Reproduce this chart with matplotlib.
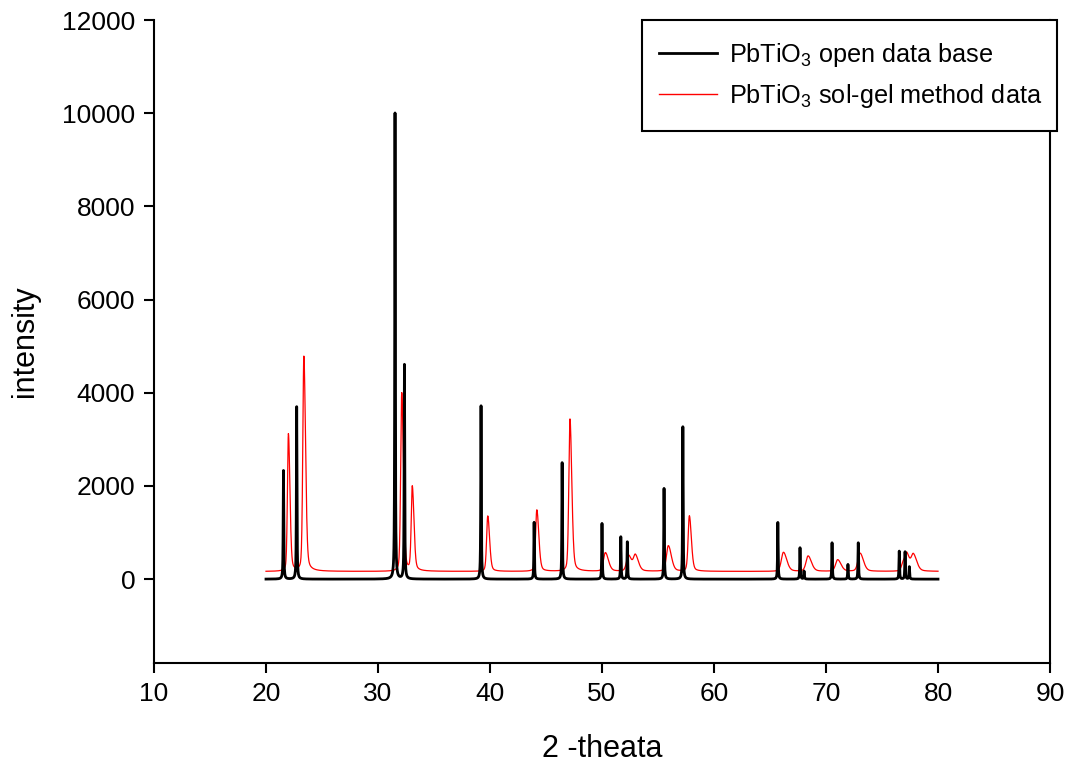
import numpy as np
import matplotlib
matplotlib.use("Agg")
import matplotlib.pyplot as plt
from matplotlib.patches import Rectangle

plt.rcParams["font.family"] = ["Liberation Sans", "DejaVu Sans"]
plt.rcParams["mathtext.fontset"] = "custom"
plt.rcParams["mathtext.rm"] = "Liberation Sans"
plt.rcParams["mathtext.it"] = "Liberation Sans:italic"
plt.rcParams["mathtext.bf"] = "Liberation Sans:bold"

# Reference pattern (open database): peak positions (2-theta) and intensities
db_pos = [21.56, 22.74, 31.52, 32.36, 39.20, 43.94, 46.44, 50.00, 51.68, 52.26,
          55.54, 57.22, 65.70, 67.68, 68.04, 70.54, 71.96, 72.88, 76.54, 77.06, 77.44]
db_int = [2330, 3700, 10000, 4600, 3720, 1220, 2500, 1195, 908, 800,
          1946, 3270, 1217, 673, 172, 780, 315, 780, 600, 586, 265]

# Sol-gel sample: peak positions, intensities above background, peak widths
sg_pos = [22.00, 23.38, 32.12, 33.06, 39.80, 44.18, 47.14, 50.30, 52.36, 52.98,
          55.92, 57.80, 66.20, 68.40, 71.04, 73.04, 76.90, 77.22, 77.80]
sg_int = [2950, 4610, 3830, 1800, 1190, 1320, 3270, 400, 340, 330,
          550, 1190, 410, 330, 250, 390, 180, 320, 350]
sg_wid = [0.10, 0.11, 0.11, 0.11, 0.12, 0.13, 0.12, 0.20, 0.20, 0.20,
          0.20, 0.13, 0.22, 0.22, 0.22, 0.22, 0.18, 0.18, 0.22]
sg_background = 165

db_width = 0.03
two_theta = np.arange(20.0, 80.0001, 0.02)


def profile(x, centres, heights, widths, right_factor=1.0, eta=1.0):
    """Sum of pseudo-Voigt peaks; eta is the Lorentzian fraction."""
    y = np.zeros_like(x)
    for c, h, w in zip(centres, heights, widths):
        g = np.where(x < c, w, w * right_factor)
        d = x - c
        lor = g**2 / (d**2 + g**2)
        gau = np.exp(-np.log(2) * (d / g) ** 2)
        y += h * (eta * lor + (1 - eta) * gau)
    return y


db_curve = profile(two_theta, db_pos, db_int, [db_width] * len(db_pos), eta=0.8)
sg_curve = sg_background + profile(two_theta, sg_pos, sg_int, sg_wid,
                                   right_factor=1.6, eta=0.3)

W, H = 1070, 769
fig = plt.figure(figsize=(W / 100, H / 100), dpi=100)
ax = fig.add_axes([154 / W, 1 - 663 / H, (1050 - 154) / W, (663 - 20) / H])

ax.plot(two_theta, db_curve, color="black", lw=2.0,
        label="PbTiO$_3$ open data base", zorder=3)
ax.plot(two_theta, sg_curve, color="red", lw=0.9,
        label="PbTiO$_3$ sol-gel method data", zorder=2)

ax.set_xlim(10, 90)
ax.set_ylim(-1800, 12000)
ax.set_xticks(range(10, 91, 10))
ax.set_yticks(range(0, 12001, 2000))

ax.spines["top"].set_visible(False)
for s in ("left", "bottom", "right"):
    ax.spines[s].set_linewidth(1.5)
ax.tick_params(axis="both", direction="out", length=7.5, width=1.5,
               labelsize=19, pad=6)
ax.tick_params(axis="y", right=False)

ax.set_xlabel("2 -theata", fontsize=22, labelpad=20)
ax.set_ylabel("intensity", fontsize=22, labelpad=16)

# legend box drawn as a separate frame so its padding can be set freely
box = Rectangle((642 / W, 1 - 131 / H), (1057 - 642) / W, (131 - 20) / H,
                transform=fig.transFigure, facecolor="white", edgecolor="black",
                linewidth=1.5, clip_on=False, zorder=4)
ax.add_patch(box)

leg = ax.legend(loc="upper left", bbox_to_anchor=(659 / W, 1 - 41 / H),
                bbox_transform=fig.transFigure, borderaxespad=0, borderpad=0,
                fontsize=18.2, frameon=False,
                handlelength=2.3, handletextpad=0.45, labelspacing=0.5)
leg.set_zorder(5)
for line in leg.get_lines():
    line.set_linewidth(2.0 if line.get_color() == "black" else 1.0)

fig.savefig("out.png", dpi=100)
